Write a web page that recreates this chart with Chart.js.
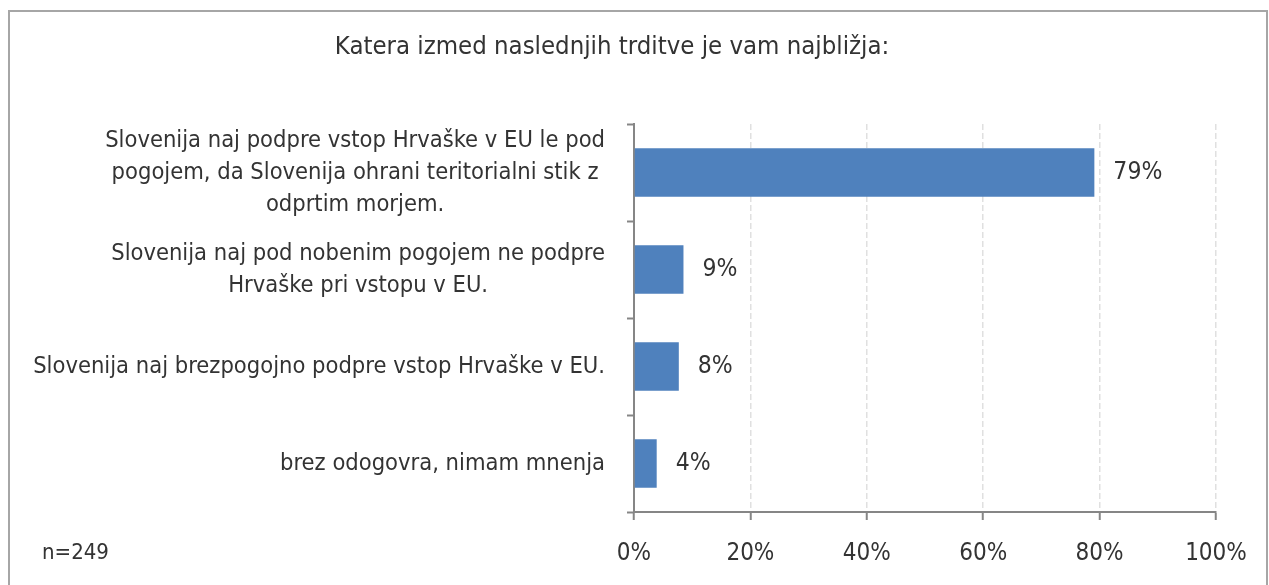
<!DOCTYPE html>
<html>
<head>
<meta charset="utf-8">
<script src="https://cdn.jsdelivr.net/npm/chart.js@4.4.0/dist/chart.umd.min.js"></script>
<style>
  html, body { margin: 0; padding: 0; background: #fff; }
  #wrap { position: relative; width: 1269px; height: 585px; overflow: hidden; }
  #frame { position: absolute; left: 8px; top: 10px; width: 1260px; height: 600px;
           border: 2px solid #a6a6a6; box-sizing: border-box; pointer-events: none; }
</style>
</head>
<body>
<div id="wrap">
  <canvas id="chart" width="1269" height="585"></canvas>
  <div id="frame"></div>
</div>
<script>
// --- data ---
const titleText = 'Katera izmed naslednjih trditve je vam najbližja:';
const categories = [
    ['Slovenija naj podpre vstop Hrvaške v EU le pod', 'pogojem, da Slovenija ohrani teritorialni stik z', 'odprtim morjem.'],
    ['Slovenija naj pod nobenim pogojem ne podpre', 'Hrvaške pri vstopu v EU.'],
    ['Slovenija naj brezpogojno podpre vstop Hrvaške v EU.'],
    ['brez odogovra, nimam mnenja']
];
const shares = [79.1, 8.5, 7.7, 3.9];           // bar lengths
const shareLabels = ['79%', '9%', '8%', '4%'];  // printed values
const xTicks = [0, 20, 40, 60, 80, 100];
const sampleNote = 'n=249';

// --- look ---
const TEXT = '#333333';
const AXIS = '#868686';
const FONT = '"DejaVu Sans Condensed", "DejaVu Sans", sans-serif';
const LABEL_RIGHT = 605;   // right edge of the category text block
const LINE_H = 32;

// draws title, category labels, value labels and the n note
const textPlugin = {
    id: 'excelText',
    afterDraw(chart) {
        const ctx = chart.ctx;
        const yScale = chart.scales.y;
        ctx.save();
        ctx.fillStyle = TEXT;
        ctx.textBaseline = 'middle';

        // title
        ctx.font = `25.5px ${FONT}`;
        ctx.textAlign = 'center';
        ctx.fillText(titleText, 612, 47);

        // category labels: block right aligned, lines centred inside it
        ctx.font = `23.5px ${FONT}`;
        categories.forEach((lines, i) => {
            const cy = yScale.getPixelForValue(i);
            const w = Math.max(...lines.map(l => ctx.measureText(l).width));
            const cx = LABEL_RIGHT - w / 2;
            lines.forEach((l, k) => {
                ctx.fillText(l, cx, cy + (k - (lines.length - 1) / 2) * LINE_H);
            });
        });

        // value labels next to bars
        ctx.font = `24.5px ${FONT}`;
        ctx.textAlign = 'left';
        chart.getDatasetMeta(0).data.forEach((bar, i) => {
            ctx.fillText(shareLabels[i], bar.x + 19, bar.y);
        });

        // sample size
        ctx.font = `22px ${FONT}`;
        ctx.fillText(sampleNote, 42, 553);
        ctx.restore();
    }
};

new Chart(document.getElementById('chart'), {
    type: 'bar',
    data: {
        labels: categories,
        datasets: [{
            data: shares,
            backgroundColor: '#4f81bd',
            borderWidth: 0,
            categoryPercentage: 1.0,
            barPercentage: 0.5
        }]
    },
    options: {
        indexAxis: 'y',
        responsive: false,
        animation: false,
        devicePixelRatio: 1,
        layout: { padding: { top: 124, right: 53, left: 0, bottom: 0 } },
        plugins: {
            legend: { display: false },
            title: { display: false },
            tooltip: { enabled: false }
        },
        scales: {
            y: {
                afterFit: s => { s.width = 634; },
                ticks: { display: false },
                grid: {
                    offset: true,
                    drawOnChartArea: false,
                    tickLength: 7,
                    tickColor: AXIS,
                    tickWidth: 2
                },
                border: { color: AXIS, width: 2 }
            },
            x: {
                min: 0,
                max: 100,
                afterFit: s => { s.height = 73; },
                afterBuildTicks: s => { s.ticks = xTicks.map(v => ({ value: v })); },
                ticks: {
                    callback: v => v + '%',
                    color: TEXT,
                    font: { family: FONT, size: 24 },
                    padding: 19,
                    maxRotation: 0
                },
                grid: {
                    color: '#e0e0e0',
                    lineWidth: 1.5,
                    tickLength: 8,
                    tickColor: AXIS,
                    tickWidth: 2,
                    tickBorderDash: []
                },
                border: { color: AXIS, width: 2, dash: [6, 3] }
            }
        }
    },
    plugins: [textPlugin]
});
</script>
</body>
</html>
